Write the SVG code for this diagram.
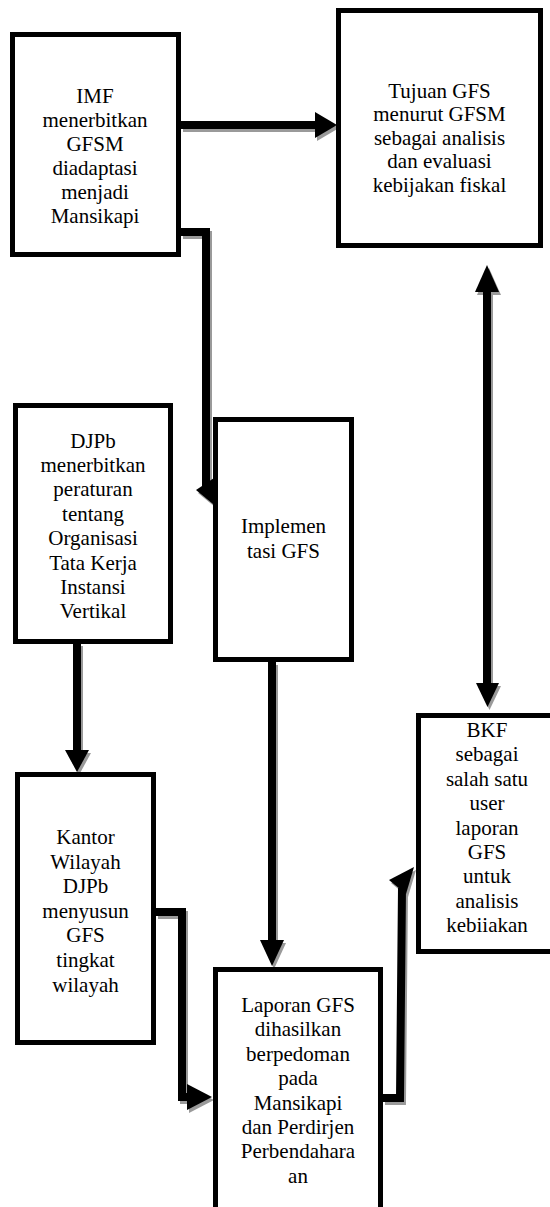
<svg xmlns="http://www.w3.org/2000/svg" xmlns:xlink="http://www.w3.org/1999/xlink" width="550" height="1207" viewBox="0 0 550 1207" font-family="Liberation Serif, serif">
<style>
.box{fill:#fff;stroke:#000;stroke-width:5}
.lbl{font-family:'Liberation Serif',serif;font-size:21px;fill:#000;text-anchor:middle}
.sh{fill:#9a9a9a;stroke:#9a9a9a}
.fg{fill:#000;stroke:#000}
</style>
<defs>
<g id="c1"><path d="M181,125 H317" fill="none" stroke-width="8"/><polygon points="315,112 337,125 315,138" stroke="none"/></g>
<g id="c2"><path d="M181,232 H206 V486" fill="none" stroke-width="8"/><polygon points="196,490 214,478 219,509" stroke="none"/></g>
<g id="c3"><path d="M77,643 V752" fill="none" stroke-width="8"/><polygon points="65,750 89,750 77,772" stroke="none"/></g>
<g id="c4"><path d="M156,912 H182 V1097 H190" fill="none" stroke-width="8"/><polygon points="187,1084 187,1110 212,1097" stroke="none"/></g>
<g id="c5"><path d="M272,662 V942" fill="none" stroke-width="8"/><polygon points="260,940 284,940 272,966" stroke="none"/></g>
<g id="c6"><path d="M383,1098 H400 L402,888" fill="none" stroke-width="8"/><polygon points="389,880 414,867 406,894" stroke="none"/></g>
<g id="c7"><path d="M487,290 V686" fill="none" stroke-width="8"/><polygon points="475,292 499,292 487,265" stroke="none"/><polygon points="476,683 499,683 487.5,707" stroke="none"/></g>
</defs>
<g id="connectors">
<use xlink:href="#c1" class="sh" transform="translate(2,3)"/>
<use xlink:href="#c2" class="sh" transform="translate(2,3)"/>
<use xlink:href="#c3" class="sh" transform="translate(2,3)"/>
<use xlink:href="#c4" class="sh" transform="translate(2,3)"/>
<use xlink:href="#c5" class="sh" transform="translate(2,3)"/>
<use xlink:href="#c6" class="sh" transform="translate(2,3)"/>
<use xlink:href="#c7" class="sh" transform="translate(2,3)"/>
<use xlink:href="#c1" class="fg"/>
<use xlink:href="#c2" class="fg"/>
<use xlink:href="#c3" class="fg"/>
<use xlink:href="#c4" class="fg"/>
<use xlink:href="#c5" class="fg"/>
<use xlink:href="#c6" class="fg"/>
<use xlink:href="#c7" class="fg"/>
</g>
<g id="imf">
<rect class="box" x="12.5" y="34.5" width="166" height="220"/>
<text class="lbl"><tspan x="95" y="103">IMF</tspan><tspan x="95" y="127">menerbitkan</tspan><tspan x="95" y="151">GFSM</tspan><tspan x="95" y="175">diadaptasi</tspan><tspan x="95" y="199">menjadi</tspan><tspan x="95" y="223">Mansikapi</tspan></text>
</g>
<g id="tujuan">
<rect class="box" x="338.5" y="10.5" width="202" height="235"/>
<text class="lbl"><tspan x="439.5" y="97.5">Tujuan GFS</tspan><tspan x="439.5" y="121">menurut GFSM</tspan><tspan x="439.5" y="144.5">sebagai analisis</tspan><tspan x="439.5" y="168">dan evaluasi</tspan><tspan x="439.5" y="191.5">kebijakan fiskal</tspan></text>
</g>
<g id="djpb">
<rect class="box" x="15.5" y="405.5" width="155" height="236"/>
<text class="lbl"><tspan x="93" y="447.5">DJPb</tspan><tspan x="93" y="471.9">menerbitkan</tspan><tspan x="93" y="496.3">peraturan</tspan><tspan x="93" y="520.7">tentang</tspan><tspan x="93" y="545.1">Organisasi</tspan><tspan x="93" y="569.5">Tata Kerja</tspan><tspan x="93" y="593.9">Instansi</tspan><tspan x="93" y="618.3">Vertikal</tspan></text>
</g>
<g id="implementasi">
<rect class="box" x="215.5" y="419.5" width="136" height="240"/>
<text class="lbl"><tspan x="283.5" y="533">Implemen</tspan><tspan x="283.5" y="558">tasi GFS</tspan></text>
</g>
<g id="kantor">
<rect class="box" x="17.5" y="774.5" width="136" height="268"/>
<text class="lbl"><tspan x="85.5" y="844">Kantor</tspan><tspan x="85.5" y="868.6">Wilayah</tspan><tspan x="85.5" y="893.2">DJPb</tspan><tspan x="85.5" y="917.8">menyusun</tspan><tspan x="85.5" y="942.4">GFS</tspan><tspan x="85.5" y="967">tingkat</tspan><tspan x="85.5" y="991.6">wilayah</tspan></text>
</g>
<g id="laporan">
<rect class="box" x="215.5" y="969.5" width="165" height="260"/>
<text class="lbl"><tspan x="298" y="1012">Laporan GFS</tspan><tspan x="298" y="1036.4">dihasilkan</tspan><tspan x="298" y="1060.8">berpedoman</tspan><tspan x="298" y="1085.2">pada</tspan><tspan x="298" y="1109.6">Mansikapi</tspan><tspan x="298" y="1134">dan Perdirjen</tspan><tspan x="298" y="1158.4">Perbendahara</tspan><tspan x="298" y="1182.8">an</tspan></text>
</g>
<g id="bkf">
<rect class="box" x="418.5" y="715.5" width="138" height="236"/>
<text class="lbl"><tspan x="487" y="737">BKF</tspan><tspan x="487" y="761.4">sebagai</tspan><tspan x="487" y="785.8">salah satu</tspan><tspan x="487" y="810.2">user</tspan><tspan x="487" y="834.6">laporan</tspan><tspan x="487" y="859">GFS</tspan><tspan x="487" y="883.4">untuk</tspan><tspan x="487" y="907.8">analisis</tspan><tspan x="487" y="932.2">kebiiakan</tspan></text>
</g>
</svg>
